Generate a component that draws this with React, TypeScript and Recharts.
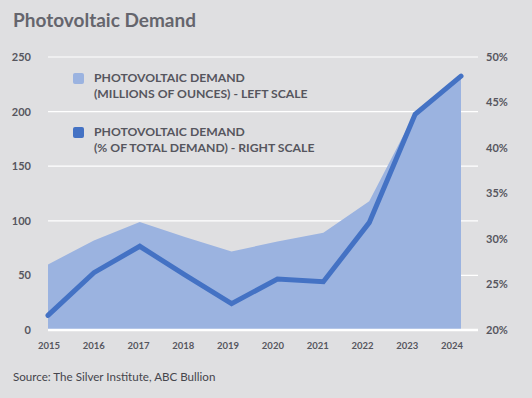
import {
  Area,
  CartesianGrid,
  ComposedChart,
  Line,
  ReferenceLine,
  XAxis,
  YAxis,
} from "recharts";

const years = ["2015", "2016", "2017", "2018", "2019", "2020", "2021", "2022", "2023", "2024"];
// millions of ounces, left scale
const demandMoz = [60, 82, 99, 85, 72, 81, 89, 118, 199, 232];
// % of total demand, right scale
const demandShare = [21.6, 26.3, 29.2, 26.0, 22.9, 25.6, 25.3, 31.8, 43.7, 47.9];

const leftTicks = [0, 50, 100, 150, 200, 250];
const rightTicks = [20, 25, 30, 35, 40, 45, 50];

const data = years.map((year, i) => ({
  year,
  moz: demandMoz[i],
  share: demandShare[i],
}));

const FONT = "Lato, 'Open Sans', sans-serif";
const TEXT = "#56565e";
const BG = "#dfdfe1";
const LIGHT = "#9bb3e0";
const DARK = "#4472c4";

const tickStyle = { fill: TEXT, fontSize: 11, fontWeight: 700, fontFamily: FONT };

export default function App() {
  return (
    <div
      style={{
        position: "absolute",
        top: 0,
        left: 0,
        width: 532,
        height: 398,
        background: BG,
        fontFamily: FONT,
        overflow: "hidden",
      }}
    >
      <div
        style={{
          position: "absolute",
          left: 13,
          top: 8,
          fontSize: 19,
          fontWeight: 700,
          color: "#65656d",
        }}
      >
        Photovoltaic Demand
      </div>

      <ComposedChart
        width={532}
        height={398}
        data={data}
        margin={{ top: 57, right: 0, bottom: 38, left: 0 }}
      >
        <CartesianGrid yAxisId="left" vertical={false} stroke="#ffffff" strokeWidth={1.2} />
        <XAxis dataKey="year" xAxisId="main" hide padding={{ left: 0, right: 17 }} />
        <XAxis
          dataKey="year"
          xAxisId="labels"
          padding={{ left: 1, right: 26 }}
          axisLine={false}
          tickLine={false}
          tickSize={0}
          tickMargin={12}
          height={30}
          interval={0}
          tick={{ ...tickStyle, fontSize: 9.5 }}
        />
        <YAxis
          yAxisId="left"
          domain={[0, 250]}
          ticks={leftTicks}
          width={48}
          axisLine={false}
          tickLine={false}
          tickSize={0}
          tickMargin={17}
          tick={tickStyle}
        />
        <YAxis
          yAxisId="right"
          orientation="right"
          domain={[20, 50]}
          ticks={rightTicks}
          width={54}
          axisLine={false}
          tickLine={false}
          tickSize={0}
          tickMargin={8}
          tick={tickStyle}
          tickFormatter={(v) => `${v}%`}
        />
        <Area
          xAxisId="main"
          yAxisId="left"
          type="linear"
          dataKey="moz"
          fill={LIGHT}
          fillOpacity={1}
          stroke="none"
          isAnimationActive={false}
        />
        <ReferenceLine xAxisId="main" yAxisId="left" y={0} stroke="#ffffff" strokeWidth={2.5} />
        <Line
          xAxisId="main"
          yAxisId="right"
          type="linear"
          dataKey="share"
          stroke={DARK}
          strokeWidth={5}
          strokeLinecap="round"
          dot={false}
          isAnimationActive={false}
        />
      </ComposedChart>

      {[
        { color: LIGHT, top: 70, lines: ["PHOTOVOLTAIC DEMAND", "(MILLIONS OF OUNCES) - LEFT SCALE"] },
        { color: DARK, top: 124, lines: ["PHOTOVOLTAIC DEMAND", "(% OF TOTAL DEMAND) - RIGHT SCALE"] },
      ].map((item) => (
        <div key={item.top} style={{ position: "absolute", left: 73, top: item.top }}>
          <div
            style={{
              position: "absolute",
              left: 0,
              top: 3,
              width: 11,
              height: 11,
              borderRadius: 2,
              background: item.color,
            }}
          />
          <div
            style={{
              position: "absolute",
              left: 21,
              top: 0,
              whiteSpace: "nowrap",
              fontSize: 12.2,
              fontWeight: 700,
              lineHeight: "16px",
              color: TEXT,
            }}
          >
            {item.lines.map((l) => (
              <div key={l}>{l}</div>
            ))}
          </div>
        </div>
      ))}

      <div
        style={{
          position: "absolute",
          left: 13,
          top: 370,
          fontSize: 11.6,
          color: "#45454c",
        }}
      >
        Source: The Silver Institute, ABC Bullion
      </div>
    </div>
  );
}
